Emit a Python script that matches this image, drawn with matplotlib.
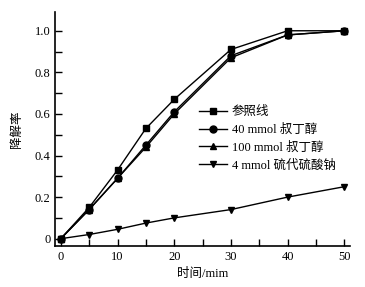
import numpy as np
import matplotlib.pyplot as plt
from matplotlib.ticker import MultipleLocator

plt.rcParams['font.family'] = ['Liberation Serif', 'Noto Sans CJK SC']

t = [0, 5, 10, 15, 20, 30, 40, 50]
ref = [0, 0.15, 0.33, 0.53, 0.67, 0.91, 1.0, 1.0]
tba40 = [0, 0.14, 0.29, 0.45, 0.61, 0.88, 0.98, 1.0]
tba100 = [0, 0.14, 0.29, 0.44, 0.60, 0.87, 0.98, 1.0]
thio = [0, 0.02, 0.045, 0.075, 0.10, 0.14, 0.20, 0.25]
labels = ['参照线', '40 mmol 叔丁醇', '100 mmol 叔丁醇', '4 mmol 硫代硫酸钠']

fig = plt.figure(figsize=(3.65, 2.87), dpi=100)
ax = fig.add_axes([0.151, 0.143, 0.808, 0.815])

ax.plot(t, ref, 'k-s', lw=1, ms=5, label=labels[0])
ax.plot(t, tba40, 'k-o', lw=1, ms=5, label=labels[1])
ax.plot(t, tba100, 'k-^', lw=1, ms=5, label=labels[2])
ax.plot(t, thio, 'k-v', lw=1, ms=5, label=labels[3])

ax.set_xlim(-1, 51)
ax.set_ylim(-0.035, 1.09)
ax.xaxis.set_major_locator(MultipleLocator(10))
ax.xaxis.set_minor_locator(MultipleLocator(5))
ax.yaxis.set_major_locator(MultipleLocator(0.2))
ax.yaxis.set_minor_locator(MultipleLocator(0.1))
ax.set_yticks([0, 0.2, 0.4, 0.6, 0.8, 1.0])
ax.set_yticklabels(['0', '0.2', '0.4', '0.6', '0.8', '1.0'])
ax.tick_params(which='both', direction='in', length=5, width=1, labelsize=9)
ax.spines['top'].set_visible(False)
ax.spines['right'].set_visible(False)
ax.spines['left'].set_linewidth(1.2)
ax.spines['bottom'].set_linewidth(1.2)

ax.set_xlabel('时间/mim', fontsize=9, labelpad=4)
ax.set_ylabel('降解率', fontsize=9, labelpad=8)

ax.legend(loc='lower right', bbox_to_anchor=(0.99, 0.27), frameon=False, fontsize=9,
          handlelength=2.2, labelspacing=0.45, handletextpad=0.4)

fig.savefig('out.png', dpi=100)
